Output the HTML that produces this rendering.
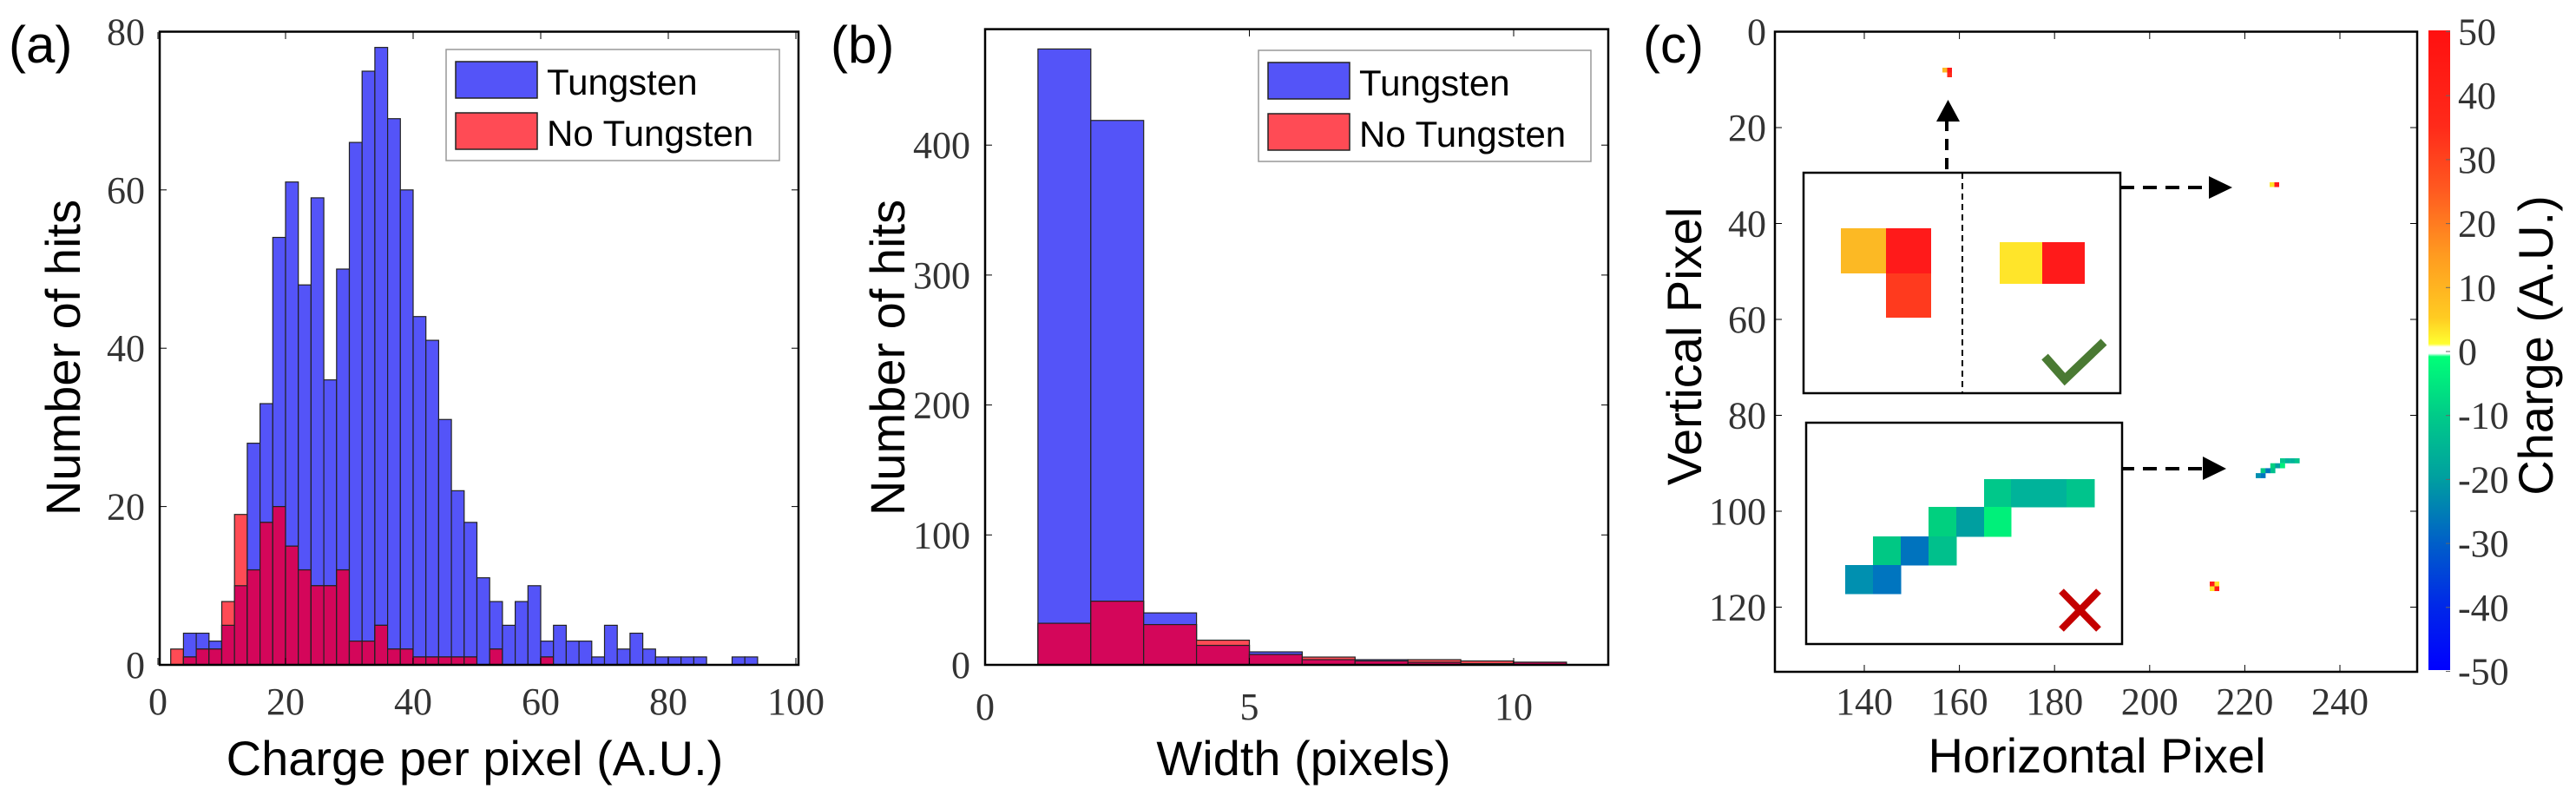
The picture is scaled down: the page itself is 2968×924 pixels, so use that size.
<!DOCTYPE html>
<html><head><meta charset="utf-8"><style>
html,body{margin:0;padding:0;background:#fff;}
svg{display:block;}
.t{font-family:"Liberation Serif",serif;font-size:44px;fill:#333;}
.s{font-family:"Liberation Sans",sans-serif;fill:#000;}
</style></head><body>
<svg id="g" width="2968" height="924" viewBox="0 0 2968 924" xmlns="http://www.w3.org/2000/svg">
<defs>
<linearGradient id="cb" x1="0" y1="0" x2="0" y2="1">
<stop offset="0" stop-color="#ff1010"/>
<stop offset="0.15" stop-color="#ff2a1a"/>
<stop offset="0.25" stop-color="#ff5a20"/>
<stop offset="0.35" stop-color="#ff9a20"/>
<stop offset="0.45" stop-color="#ffcc22"/>
<stop offset="0.49" stop-color="#ffff30"/>
<stop offset="0.495" stop-color="#ffffff"/>
<stop offset="0.505" stop-color="#ffffff"/>
<stop offset="0.51" stop-color="#00ff78"/>
<stop offset="0.6" stop-color="#00cc88"/>
<stop offset="0.7" stop-color="#009fa0"/>
<stop offset="0.8" stop-color="#0060c8"/>
<stop offset="0.9" stop-color="#0028e8"/>
<stop offset="1" stop-color="#0000ff"/>
</linearGradient>
</defs>
</svg>
<script>
var svg=document.getElementById('g');var NS='http://www.w3.org/2000/svg';
function el(t,a,txt){var e=document.createElementNS(NS,t);for(var k in a)e.setAttribute(k,a[k]);if(txt!==undefined)e.textContent=txt;svg.appendChild(e);return e;}
var B='#5454f8',R='#ff4b55',O='#d4065a';
function hist(x0,bw,sx,X0,Y0,sy,bl,rd){
 for(var i=0;i<bl.length;i++){var b=bl[i],r=rd[i];var xl=X0+(x0+i*bw)*sx,w=bw*sx;
  if(b>0)el('rect',{x:xl,y:Y0-b*sy,width:w,height:b*sy,fill:B,stroke:'#222','stroke-width':1.2});
  if(r>0)el('rect',{x:xl,y:Y0-r*sy,width:w,height:r*sy,fill:R,stroke:'#222','stroke-width':1.2});
  var m=Math.min(b,r);if(m>0)el('rect',{x:xl,y:Y0-m*sy,width:w,height:m*sy,fill:O,stroke:'#222','stroke-width':1.2});
 }}
// Panel a
var ab=[0,4,4,3,5,10,28,33,54,61,48,59,36,50,66,75,78,69,60,44,41,31,22,18,11,8,5,8,10,3,5,3,3,1,5,2,4,2,1,1,1,1,0,0,1,1];
var ar=[2,1,2,2,8,19,12,18,20,15,12,10,10,12,3,3,5,2,2,1,1,1,1,1,0,2,0,0,0,1,0,0,0,0,0,0,0,0,0,0,0,0,0,0,0,0];
hist(2,2,7.35,182,766,9.12,ab,ar);
el('rect',{x:184,y:36.5,width:736,height:729.5,fill:'none',stroke:'#000','stroke-width':2.5});
[0,20,40,60,80].forEach(function(v){var y=766-v*9.12;el('line',{x1:184,x2:192,y1:y,y2:y,stroke:'#000'});el('line',{x1:920,x2:912,y1:y,y2:y,stroke:'#000'});el('text',{x:167,y:y+15,'text-anchor':'end','class':'t'},v);});
[0,20,40,60,80,100].forEach(function(v){var x=182+v*7.35;el('line',{x1:x,x2:x,y1:766,y2:758,stroke:'#000'});el('line',{x1:x,x2:x,y1:37,y2:45,stroke:'#000'});el('text',{x:x,y:823,'text-anchor':'middle','class':'t'},v);});
function legend(x,y,w){el('rect',{x:x,y:y,width:w,height:128,fill:'#fff',stroke:'#999','stroke-width':1.5});
 el('rect',{x:x+11,y:y+14,width:94,height:42,fill:B,stroke:'#222','stroke-width':1.5});
 el('rect',{x:x+11,y:y+73,width:94,height:42,fill:R,stroke:'#222','stroke-width':1.5});
 el('text',{x:x+116,y:y+52,'class':'s','font-size':'42'},'Tungsten');
 el('text',{x:x+116,y:y+111,'class':'s','font-size':'42'},'No Tungsten');}
legend(514,57,384);
el('text',{x:10,y:72,'class':'s','font-size':'60'},'(a)');
el('text',{x:547,y:893,'class':'s','font-size':'56','text-anchor':'middle'},'Charge per pixel (A.U.)');
el('text',{x:0,y:0,'class':'s','font-size':'56','text-anchor':'middle',transform:'translate(92,412) rotate(-90)'},'Number of hits');
// Panel b
var bb=[474,419,40,15,10,4,4,2,1,2],br=[32,49,31,19,8,6,3,4,3,2];
hist(1,1,60.9,1135,766,1.497,bb,br);
el('rect',{x:1135,y:33.6,width:718,height:732.4,fill:'none',stroke:'#000','stroke-width':2.5});
[0,100,200,300,400].forEach(function(v){var y=766-v*1.497;el('line',{x1:1135,x2:1143,y1:y,y2:y,stroke:'#000'});el('line',{x1:1853,x2:1845,y1:y,y2:y,stroke:'#000'});el('text',{x:1118,y:y+15,'text-anchor':'end','class':'t'},v);});
[0,5,10].forEach(function(v){var x=1135+v*60.9;el('line',{x1:x,x2:x,y1:766,y2:758,stroke:'#000'});el('line',{x1:x,x2:x,y1:34,y2:42,stroke:'#000'});el('text',{x:x,y:829,'text-anchor':'middle','class':'t'},v);});
legend(1450,58,383);
el('text',{x:957,y:72,'class':'s','font-size':'60'},'(b)');
el('text',{x:1502,y:893,'class':'s','font-size':'56','text-anchor':'middle'},'Width (pixels)');
el('text',{x:0,y:0,'class':'s','font-size':'56','text-anchor':'middle',transform:'translate(1042,412) rotate(-90)'},'Number of hits');
// Panel c
el('rect',{x:2045,y:36.5,width:740,height:737.5,fill:'none',stroke:'#000','stroke-width':2.5});
[0,20,40,60,80,100,120].forEach(function(v){var y=36.5+v*5.525;el('line',{x1:2045,x2:2053,y1:y,y2:y,stroke:'#000'});el('line',{x1:2785,x2:2777,y1:y,y2:y,stroke:'#000'});el('text',{x:2035,y:y+15,'text-anchor':'end','class':'t'},v);});
[140,160,180,200,220,240].forEach(function(v){var x=2148+(v-140)*5.48;el('line',{x1:x,x2:x,y1:774,y2:766,stroke:'#000'});el('line',{x1:x,x2:x,y1:37,y2:45,stroke:'#000'});el('text',{x:x,y:823,'text-anchor':'middle','class':'t'},v);});
el('text',{x:1893,y:72,'class':'s','font-size':'60'},'(c)');
el('text',{x:2416,y:890,'class':'s','font-size':'56','text-anchor':'middle'},'Horizontal Pixel');
el('text',{x:0,y:0,'class':'s','font-size':'56','text-anchor':'middle',transform:'translate(1960,399) rotate(-90)'},'Vertical Pixel');
// colorbar
el('rect',{x:2798,y:35,width:25,height:737,fill:'url(#cb)'});
[50,40,30,20,10,0,-10,-20,-30,-40,-50].forEach(function(v,i){var y=36.5+i*73.7;el('text',{x:2832,y:y+15,'class':'t'},v);el('line',{x1:2818,x2:2823,y1:y,y2:y,stroke:'#666'});});
el('text',{x:0,y:0,'class':'s','font-size':'56','text-anchor':'middle',transform:'translate(2941,398) rotate(-90)'},'Charge (A.U.)');
function px(x,y,c,s){el('rect',{x:x,y:y,width:s||5.5,height:s||5.5,fill:c});}
px(2238,78,'#fcb924');px(2243.5,78,'#ff1a1a');px(2243.5,83.5,'#ff2a1a');
px(2615,210,'#ffe52a');px(2620.5,210,'#ff1a1a');
px(2546,670,'#ff1a1a');px(2551.5,670,'#ffe52a');px(2546,675.5,'#ffe52a');px(2551.5,675.5,'#ff1a1a');
var trk=[[0,5,'#00c88a'],[0,6,'#00b39a'],[0,7,'#00b39a'],[0,8,'#00c48c'],[1,3,'#00d07f'],[1,4,'#009fa0'],[1,5,'#00f07a'],[2,1,'#00c884'],[2,2,'#0073be'],[2,3,'#00c08c'],[3,0,'#0090b0'],[3,1,'#0075bf']];
trk.forEach(function(t){px(2599+t[1]*5.6,528+t[0]*5.7,t[2],5.8);});
// inset 1
el('rect',{x:2078,y:199,width:365,height:254,fill:'#fff',stroke:'#000','stroke-width':2.5});
el('line',{x1:2261,x2:2261,y1:199,y2:453,stroke:'#000','stroke-width':2,'stroke-dasharray':'7,5'});
el('rect',{x:2121,y:263,width:52,height:52,fill:'#fcb924'});
el('rect',{x:2173,y:263,width:52,height:52,fill:'#ff1a1a'});
el('rect',{x:2173,y:315,width:52,height:51,fill:'#ff3a1e'});
el('rect',{x:2304,y:279,width:49,height:48,fill:'#ffe52a'});
el('rect',{x:2353,y:279,width:49,height:48,fill:'#ff1a1a'});
el('polyline',{points:'2356,411 2379,437 2424,394',fill:'none',stroke:'#4a7a33','stroke-width':10});
// arrows
el('line',{x1:2243,x2:2243,y1:195,y2:140,stroke:'#000','stroke-width':4,'stroke-dasharray':'13,9'});
el('polygon',{points:'2231,140 2258,140 2244.5,115',fill:'#000'});
el('line',{x1:2443,x2:2545,y1:216,y2:216,stroke:'#000','stroke-width':4,'stroke-dasharray':'16,10'});
el('polygon',{points:'2545,203 2545,229 2572,216',fill:'#000'});
el('line',{x1:2443,x2:2538,y1:540,y2:540,stroke:'#000','stroke-width':4,'stroke-dasharray':'16,10'});
el('polygon',{points:'2538,526 2538,553 2565,540',fill:'#000'});
// inset 2
el('rect',{x:2081,y:487,width:364,height:255,fill:'#fff',stroke:'#000','stroke-width':2.5});
var cx=[2126,2158,2190,2222,2254,2286,2317,2349,2381,2413],ry=[552,584,618,651,684];
trk.forEach(function(t){el('rect',{x:cx[t[1]],y:ry[t[0]],width:cx[t[1]+1]-cx[t[1]]+0.5,height:ry[t[0]+1]-ry[t[0]]+0.5,fill:t[2]});});
el('line',{x1:2375,y1:681,x2:2418,y2:725,stroke:'#c40000','stroke-width':8});
el('line',{x1:2418,y1:681,x2:2375,y2:725,stroke:'#c40000','stroke-width':8});
</script>
</body></html>
